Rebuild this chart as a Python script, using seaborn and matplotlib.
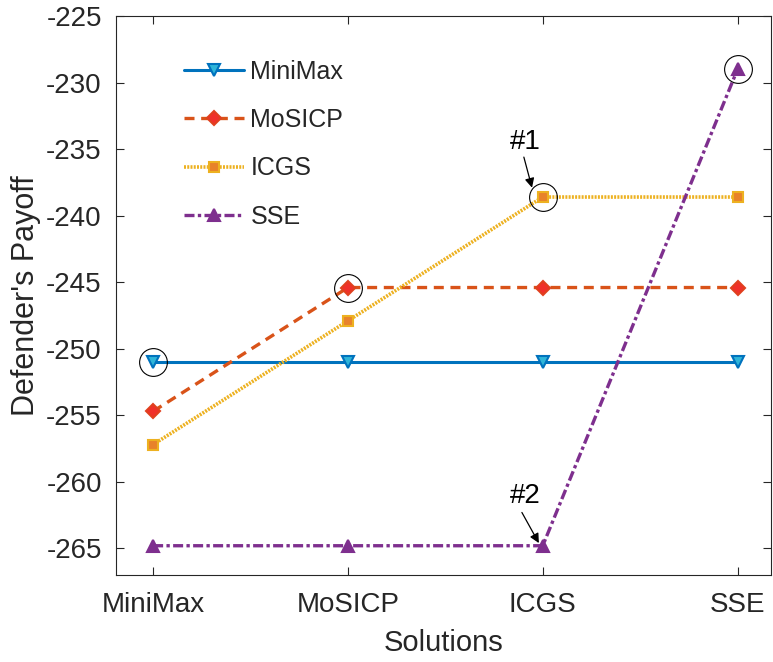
import numpy as np
import pandas as pd
import seaborn as sns
import matplotlib
matplotlib.use("Agg")
import matplotlib.pyplot as plt

categories = ["MiniMax", "MoSICP", "ICGS", "SSE"]
minimax = [-251.0, -251.0, -251.0, -251.0]
mosicp = [-254.7, -245.4, -245.4, -245.4]
icgs = [-257.2, -247.9, -238.6, -238.6]
sse = [-264.8, -264.8, -264.8, -229.0]
series_names = ["MiniMax", "MoSICP", "ICGS", "SSE"]
highlight_y = [-251.0, -245.4, -238.6, -229.0]

sns.set_theme(style="white")
plt.rcParams['font.family'] = ['Liberation Sans', 'DejaVu Sans']
plt.rcParams['axes.unicode_minus'] = False

fig = plt.figure(figsize=(7.73, 6.62), dpi=100)
ax = fig.add_axes([0.1497, 0.1314, 0.8473, 0.8444])

x = np.arange(1, len(categories) + 1)
styles = [
    dict(color="#0072BD", ls="-", marker="v", mfc="#2FB5D9", mec="#0072BD", ms=9, lw=2.2),
    dict(color="#D95319", ls=(0, (3.0, 2.0)), marker="D", mfc="#F0302A", mec="#E0401F", ms=7, lw=2.4),
    dict(color="#EDB120", ls=(0, (0.55, 0.35)), marker="s", mfc="#E8822A", mec="#EDB120", ms=7, lw=2.6),
    dict(color="#7E2F8E", ls=(0, (3.0, 1.0, 1.0, 1.0)), marker="^", mfc="#7E2F8E", mec="#7E2F8E", ms=9, lw=2.4),
]
data = [minimax, mosicp, icgs, sse]
for name, vals, st in zip(series_names, data, styles):
    df = pd.DataFrame({"x": x, "y": vals})
    sns.lineplot(data=df, x="x", y="y", ax=ax, color=st["color"], linestyle=st["ls"],
                 linewidth=st["lw"], marker=st["marker"], markersize=st["ms"],
                 markerfacecolor=st["mfc"], markeredgecolor=st["mec"], markeredgewidth=1.5,
                 label=name)

# circles highlighting the best solution of each method
ax.plot(x, highlight_y, linestyle="none", marker="o", markersize=20,
        markerfacecolor="none", markeredgecolor="black", markeredgewidth=0.8)

ax.text(2.913, -234.5, "#1", fontsize=20, ha="center", va="center", color="black")
ax.annotate("", xy=(2.945, -237.9), xytext=(2.903, -235.6),
            arrowprops=dict(arrowstyle="-|>", color="black", lw=0.9, mutation_scale=14,
                            shrinkA=0, shrinkB=0))
ax.text(2.91, -261.1, "#2", fontsize=20, ha="center", va="center", color="black")
ax.annotate("", xy=(2.98, -264.6), xytext=(2.893, -262.3),
            arrowprops=dict(arrowstyle="-|>", color="black", lw=0.9, mutation_scale=14,
                            shrinkA=0, shrinkB=0))

ax.set_xlim(0.808, 4.17)
ax.set_ylim(-267, -225)
ax.set_xticks(x)
ax.set_xticklabels(categories)
ax.set_yticks(np.arange(-265, -224, 5))
ax.tick_params(axis="both", which="both", direction="in", length=6, width=0.8,
               labelsize=20, top=True, right=True, bottom=True, left=True,
               colors="#262626", labelcolor="#262626")
ax.tick_params(axis="x", pad=12)
ax.tick_params(axis="y", pad=10)
for sp in ax.spines.values():
    sp.set_visible(True)
    sp.set_color("#262626")
    sp.set_linewidth(0.8)

ax.set_xlabel("Solutions", fontsize=21, color="#262626", labelpad=8)
ax.set_ylabel("Defender's Payoff", fontsize=22, color="#262626", labelpad=4)

leg = ax.legend(loc="upper left", bbox_to_anchor=(0.07, 0.962), frameon=False,
                fontsize=18, handlelength=2.4, labelspacing=0.97, handletextpad=0.25)

fig.savefig("out.png", dpi=100)
